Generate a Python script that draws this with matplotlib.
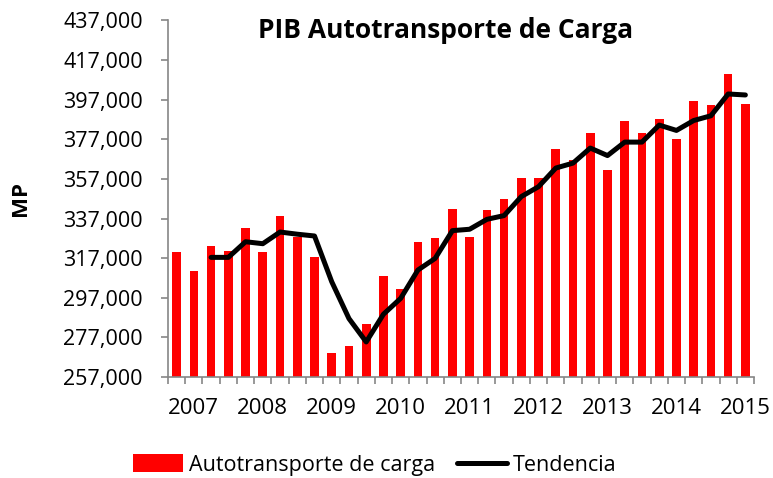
import matplotlib
matplotlib.use("Agg")
import matplotlib.pyplot as plt
import numpy as np

plt.rcParams['font.family'] = ['Open Sans', 'DejaVu Sans']

# trimestres 2007 T1 - 2015 T2
quarters = [f"{y}-T{q}" for y in range(2007, 2016) for q in range(1, 5)][:34]
years = ["2007", "2008", "2009", "2010", "2011", "2012", "2013", "2014", "2015"]

pib = [320200, 310500, 323100, 320600, 332100, 320200, 338500, 327800, 317700,
       269300, 272700, 284000, 308000, 301200, 325000, 327300, 341700, 327800,
       341500, 346900, 357500, 357700, 372100, 366700, 380200, 361600, 386200,
       380300, 387200, 377300, 396200, 394500, 409800, 394800]

tendencia = [None, None, 317400, 317400, 325300, 324300, 330200, 329100, 328200,
             305100, 286500, 274700, 288700, 296700, 311000, 316900, 330900, 331600,
             336600, 338500, 348100, 353100, 362500, 365000, 372600, 368800, 375600,
             375600, 384200, 381500, 386500, 388900, 399900, 399400]

x = np.arange(len(quarters))
trend = np.array([np.nan if v is None else v for v in tendencia], dtype=float)

fig = plt.figure(figsize=(7.73, 4.78), dpi=100)
ax = fig.add_axes([168 / 773, 1 - 377 / 478, (754 - 168) / 773, (377 - 20.5) / 478])

bars = ax.bar(x, pib, width=0.5, color='#FF0000', label='Autotransporte de carga', zorder=2)
line, = ax.plot(x, trend, color='black', lw=3.6, solid_capstyle='round',
                solid_joinstyle='round', label='Tendencia', zorder=3)

ax.set_xlim(-0.5, len(x) - 0.5)
ax.set_ylim(257000, 437000)
yt = list(range(257000, 437001, 20000))
ax.set_yticks(yt)
ax.set_yticklabels([f"{v:,}" for v in yt], fontsize=15.5)

ax.set_xticks(x[1::4])
ax.set_xticklabels(years, fontsize=16)
ax.set_xticks(np.arange(-0.5, len(x), 1), minor=True)
ax.tick_params(axis='x', which='major', length=0, pad=15)
ax.tick_params(axis='x', which='minor', length=5, width=1.2, color='#868686', direction='out')
ax.tick_params(axis='y', length=5, width=1.2, color='#868686', pad=13)

for s in ['top', 'right']:
    ax.spines[s].set_visible(False)
for s in ['left', 'bottom']:
    ax.spines[s].set_color('#868686')
    ax.spines[s].set_linewidth(1.2)

fig.text(446 / 773, 1 - 31 / 478, 'PIB Autotransporte de Carga', ha='center', va='center',
         fontsize=19, fontweight='bold')
fig.text(20 / 773, 1 - 198 / 478, 'MP', rotation=90, ha='center', va='center',
         fontsize=16, fontweight='bold')

fig.legend(handles=[bars, line], loc='center', bbox_to_anchor=(375 / 773, 1 - 465 / 478),
           ncol=2, frameon=False, fontsize=15.5, handlelength=2.3, handleheight=0.9,
           handletextpad=0.3, columnspacing=1.0)

fig.savefig('out.png', dpi=100)
